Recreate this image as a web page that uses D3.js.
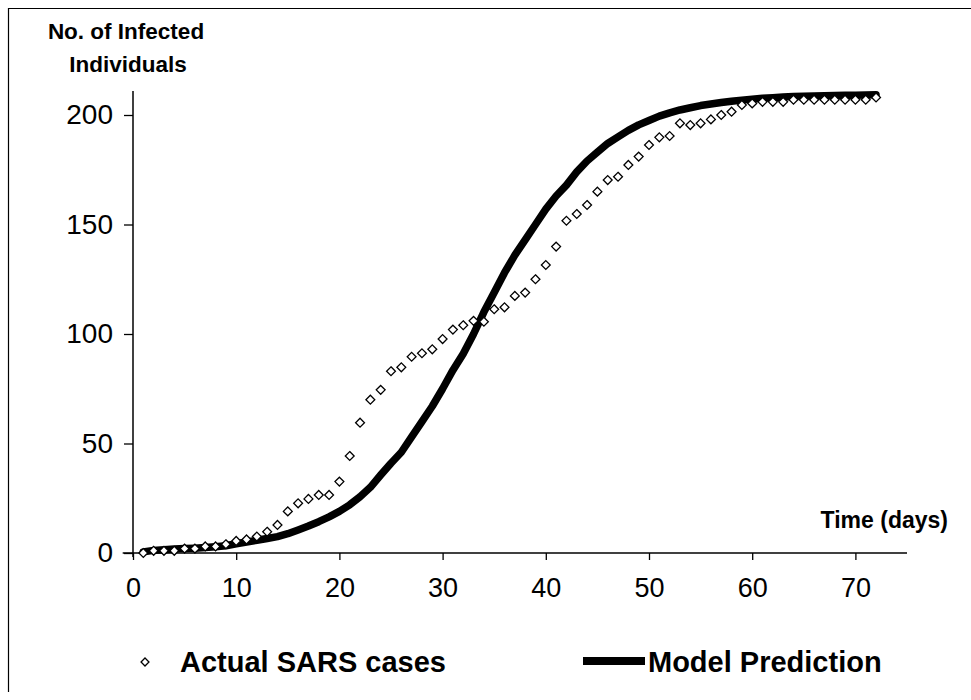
<!DOCTYPE html>
<html>
<head>
<meta charset="utf-8">
<script src="https://cdn.jsdelivr.net/npm/d3@7"></script>
<style>
  html, body { margin: 0; padding: 0; background: #fff; }
  svg { display: block; }
  text { font-family: "Liberation Sans", Arial, sans-serif; fill: #000; }
</style>
</head>
<body>
<svg id="chart" width="971" height="700"></svg>
<script>
// ---- data ----
const days = d3.range(1, 73);
const actualCases = [
  0, 1, 1, 1, 2, 2, 3, 3, 4, 5.5,
  6.2, 7.5, 9.7, 12.8, 19, 22.7, 24.7, 26.5, 26.5, 32.6,
  44.3, 59.5, 70, 74.5, 83, 84.8, 89.6, 91.2, 93, 97.7,
  102, 104, 106, 105.6, 111.3, 112.2, 117.4, 118.9, 125, 131.5,
  139.9, 151.7, 154.8, 158.9, 165, 170.3, 171.8, 177.2, 181, 186.3,
  189.8, 190.4, 196.2, 195.4, 196.2, 198, 200, 201.5, 204.6, 205.3,
  206, 206, 206, 207, 207, 207, 207, 207, 207, 207,
  207, 208
];
const modelPrediction = [
  0.5, 1.2, 1.5, 1.8, 2.0, 2.2, 2.5, 2.9, 3.3, 4.2,
  5.0, 5.8, 6.6, 7.5, 8.8, 10.5, 12.3, 14.3, 16.5, 19,
  22, 25.7, 30, 35.6, 41, 46, 53, 60, 67, 75,
  83.5, 91, 100, 110, 119, 128, 136, 143, 150, 157,
  163, 168, 174, 179, 183, 187, 190, 193, 195.5, 197.5,
  199.5, 201, 202.3, 203.3, 204.3, 205, 205.7, 206.3, 206.8, 207.2,
  207.6, 207.9, 208.2, 208.4, 208.6, 208.7, 208.8, 208.9, 209, 209,
  209.1, 209.2
];
const xTicks = [0, 10, 20, 30, 40, 50, 60, 70];
const yTicks = [0, 50, 100, 150, 200];
const yTitle = ["No. of Infected", "Individuals"];
const xTitle = "Time (days)";
const legendLabels = ["Actual SARS cases", "Model Prediction"];

// ---- layout ----
const svg = d3.select("#chart");
const x = d3.scaleLinear().domain([0, 75]).range([133, 907]);
const y = d3.scaleLinear().domain([0, 200]).range([553, 115]);

// outer frame
svg.append("line").attr("x1", 8).attr("x2", 971).attr("y1", 8.5).attr("y2", 8.5)
  .attr("stroke", "#000").attr("stroke-width", 1.2);
svg.append("line").attr("x1", 8.5).attr("x2", 8.5).attr("y1", 8).attr("y2", 692)
  .attr("stroke", "#000").attr("stroke-width", 1.2);

// axes
const xAxis = d3.axisBottom(x).tickValues(xTicks).tickSize(7).tickSizeOuter(0).tickPadding(18);
const gx = svg.append("g").attr("transform", `translate(0,${y(0)})`).call(xAxis);
gx.select(".domain").remove();
gx.append("line").attr("x1", x(-1)).attr("x2", x(75)).attr("y1", 0).attr("y2", 0)
  .attr("stroke", "#000").attr("stroke-width", 1.5);
gx.selectAll(".tick line").attr("stroke", "#000").attr("stroke-width", 1.3);
gx.selectAll(".tick text").attr("font-size", 27).attr("fill", "#000")
  .style("font-family", "'Liberation Sans', Arial, sans-serif");

const yAxis = d3.axisLeft(y).tickValues(yTicks).tickSize(9).tickSizeOuter(0).tickPadding(11);
const gy = svg.append("g").attr("transform", `translate(${x(0)},0)`).call(yAxis);
gy.select(".domain").remove();
gy.append("line").attr("x1", 0).attr("x2", 0).attr("y1", y(0) + 4).attr("y2", y(211))
  .attr("stroke", "#000").attr("stroke-width", 1.5);
gy.selectAll(".tick line").attr("stroke", "#000").attr("stroke-width", 1.3);
gy.selectAll(".tick text").attr("font-size", 28).attr("fill", "#000")
  .style("font-family", "'Liberation Sans', Arial, sans-serif");

// model line
const line = d3.line().x((d, i) => x(days[i])).y(d => y(d));
svg.append("path").datum(modelPrediction)
  .attr("d", line).attr("fill", "none").attr("stroke", "#000")
  .attr("stroke-width", 7.5).attr("stroke-linejoin", "round").attr("stroke-linecap", "round");

// actual cases (diamonds)
const diamond = d3.symbol().type(d3.symbolDiamond2).size(50);
svg.append("g").selectAll("path").data(actualCases).join("path")
  .attr("transform", (d, i) => `translate(${x(days[i])},${y(d)})`)
  .attr("d", diamond()).attr("fill", "#fff").attr("stroke", "#000").attr("stroke-width", 1.3);

// titles
svg.append("text").attr("x", 126).attr("y", 39).attr("text-anchor", "middle")
  .attr("font-size", 22.5).attr("font-weight", "bold").text(yTitle[0]);
svg.append("text").attr("x", 128).attr("y", 72).attr("text-anchor", "middle")
  .attr("font-size", 22.5).attr("font-weight", "bold").text(yTitle[1]);
svg.append("text").attr("x", 948).attr("y", 528).attr("text-anchor", "end")
  .attr("font-size", 23).attr("font-weight", "bold").text(xTitle);

// legend
svg.append("path").attr("transform", "translate(145,662)")
  .attr("d", d3.symbol().type(d3.symbolDiamond2).size(40)()).attr("fill", "#fff")
  .attr("stroke", "#000").attr("stroke-width", 1.3);
svg.append("text").attr("x", 180).attr("y", 672).attr("font-size", 29).attr("font-weight", "bold")
  .text(legendLabels[0]);
svg.append("line").attr("x1", 583).attr("x2", 645).attr("y1", 661).attr("y2", 661)
  .attr("stroke", "#000").attr("stroke-width", 8);
svg.append("text").attr("x", 648).attr("y", 672).attr("font-size", 29).attr("font-weight", "bold")
  .text(legendLabels[1]);
</script>
</body>
</html>
